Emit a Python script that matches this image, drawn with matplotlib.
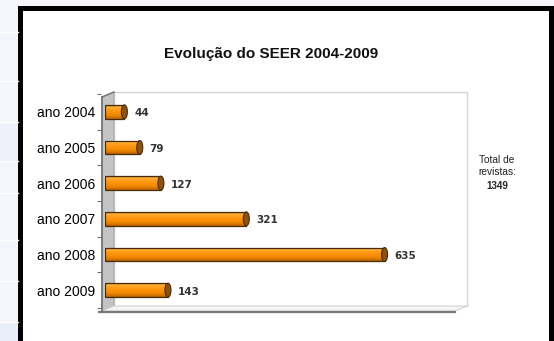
import numpy as np
import matplotlib
matplotlib.use("Agg")
import matplotlib.pyplot as plt
from matplotlib.patches import Rectangle, Ellipse, Polygon
from matplotlib.colors import LinearSegmentedColormap

categories = ["ano 2004", "ano 2005", "ano 2006", "ano 2007", "ano 2008", "ano 2009"]
values = [44, 79, 127, 321, 635, 143]
total = 1349
title = "Evolução do SEER 2004-2009"

plt.rcParams['font.family'] = ['Liberation Sans', 'DejaVu Sans']

W, H = 554, 341
fig = plt.figure(figsize=(W / 100, H / 100), dpi=100)

# background layer in pixel coordinates
bg = fig.add_axes([0, 0, 1, 1], zorder=0)
bg.set_xlim(0, W)
bg.set_ylim(H, 0)
bg.axis("off")

# slide-like strip outside the frame
bg.add_patch(Rectangle((0, 0), W, H, color="#f4f6fc", lw=0))
for y0, y1, c in [(122, 161, "#eef1fa"), (322, 341, "#eaeefa")]:
    bg.add_patch(Rectangle((0, y0), 18, y1 - y0, color=c, lw=0))
for y in [32, 81, 122, 161, 193, 240, 281, 322]:
    bg.plot([0, 18], [y, y], color="white", lw=1)

# white card with black frame
bg.add_patch(Rectangle((18, 6), 536, 340, color="black", lw=0))
bg.add_patch(Rectangle((23, 11), 526, 340, color="white", lw=0))

# 3d box: back wall, left wall, floor
bg.add_patch(Polygon([(114, 92), (467, 92), (467, 306), (114, 306)],
                     closed=True, fc="white", ec="#d4d4d4", lw=1))
bg.add_patch(Polygon([(102, 97), (114, 92), (114, 306), (102, 311)],
                     closed=True, fc="#c4c4c4", ec="#a8a8a8", lw=0.8))
bg.add_patch(Polygon([(102, 311), (455, 311), (467, 306), (114, 306)],
                     closed=True, fc="#f4f4f4", ec="#d4d4d4", lw=0.8))
bg.plot([99, 455], [311.5, 311.5], color="#7a7a7a", lw=1.6)
bg.plot([102, 102], [97, 311], color="#707070", lw=1.2)
bg.plot([102, 114], [97, 92], color="#707070", lw=1.0)

bg.text(271, 54, title, ha="center", va="center", fontsize=11, fontweight="bold", color="#111111")
bg.text(497, 166, "Total de\nrevistas:", ha="center", va="center", fontsize=7.3,
        color="#222222", linespacing=1.25)
bg.text(497, 186, str(total), ha="center", va="center", fontsize=7,
        fontweight="bold", color="#222222")

# data axes
ax = fig.add_axes([105 / W, 1 - 308 / H, 350 / W, 214 / H], zorder=1)
ax.patch.set_alpha(0)
for s in ax.spines.values():
    s.set_visible(False)

n = len(values)
ypos = np.arange(n)[::-1]
h = 0.39
xmax = 795

cmap = LinearSegmentedColormap.from_list(
    "cyl", [(0, "#a85a00"), (0.12, "#ffb13a"), (0.4, "#ff9810"),
            (0.75, "#ef8600"), (1, "#b86200")])
grad = np.linspace(0, 1, 64).reshape(-1, 1)

bars = ax.barh(ypos, values, height=h, color="none", edgecolor="#4a2c08", lw=0.9, zorder=3)
cap_w = xmax * 6 / 350
for b, v, y in zip(bars, values, ypos):
    im = ax.imshow(grad, cmap=cmap, aspect="auto", extent=(0, v, y - h / 2, y + h / 2),
                   origin="upper", zorder=2)
    im.set_clip_path(b)
    ax.add_patch(Ellipse((v, y), cap_w, h, fc="#8a5214", ec="#4a2c08", lw=0.8, zorder=4))
    ax.annotate(str(v), (v, y), xytext=(7, -1), textcoords="offset points",
                ha="left", va="center", fontsize=7.5, fontweight="bold",
                family=["DejaVu Sans"], color="#333333")

ax.set_xlim(0, xmax)
ax.set_ylim(-0.5, n - 0.5)
ax.set_xticks([])
ax.set_yticks(ypos)
ax.set_yticklabels(categories, fontsize=6.5, color="#333333")
ax.tick_params(axis="y", which="major", length=0, pad=4)
ax.set_yticks(np.arange(-0.5, n, 1), minor=True)
ax.tick_params(axis="y", which="minor", length=3, color="#707070", width=0.8)
ax.spines["left"].set_position(("outward", 3))

fig.savefig("out.png", dpi=100)
